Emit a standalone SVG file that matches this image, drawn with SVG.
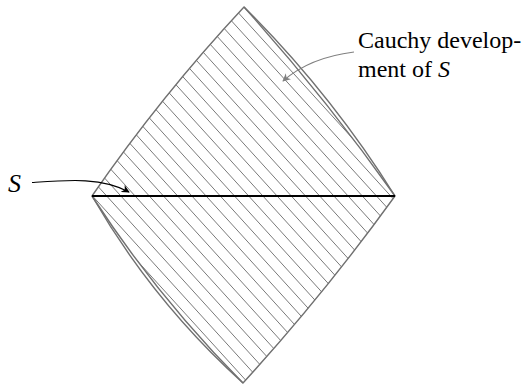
<svg xmlns="http://www.w3.org/2000/svg" width="527" height="388" viewBox="0 0 527 388">
  <style>
    .outline { fill: none; stroke: #707070; stroke-width: 1.4; stroke-linejoin: round; }
    .hatch { fill: none; stroke: #7a7a7a; stroke-width: 1; }
    .sline { stroke: #000; stroke-width: 2.2; }
    text { font-family: 'Liberation Serif', 'DejaVu Serif', serif; font-size: 24px; fill: #000; }
    .it { font-style: italic; }
    .lead-k { fill: none; stroke: #000; stroke-width: 1.2; }
    .lead-g { fill: none; stroke: #808080; stroke-width: 1.2; }
  </style>
  <defs>
    <marker id="ah-k" viewBox="0 0 10 10" refX="9" refY="5" markerWidth="8" markerHeight="8" markerUnits="userSpaceOnUse" orient="auto">
      <path d="M0,0 L10,5 L0,10 L3,5 Z" fill="#000"/>
    </marker>
    <marker id="ah-g" viewBox="0 0 10 10" refX="9" refY="5" markerWidth="8" markerHeight="8" markerUnits="userSpaceOnUse" orient="auto">
      <path d="M0,0 L10,5 L0,10 L3,5 Z" fill="#808080"/>
    </marker>
    <clipPath id="dev">
      <path d="M244,7 Q325,97 395,196 Q324.4,293.9 243,383 Q157.8,297.4 92,196 Q161,95.9 244,7 Z"/>
    </clipPath>
  </defs>

  <g id="development">
    <path class="hatch" clip-path="url(#dev)" d="
      M-101.7,-2 L258.3,394
      M-87.5,-2 L272.5,394
      M-73.3,-2 L286.7,394
      M-59.1,-2 L300.9,394
      M-44.9,-2 L315.1,394
      M-30.7,-2 L329.3,394
      M-16.5,-2 L343.5,394
      M-2.3,-2 L357.7,394
      M11.9,-2 L371.9,394
      M26.1,-2 L386.1,394
      M40.3,-2 L400.3,394
      M54.5,-2 L414.5,394
      M68.7,-2 L428.7,394
      M82.9,-2 L442.9,394
      M97.1,-2 L457.1,394
      M111.3,-2 L471.3,394
      M125.5,-2 L485.5,394
      M139.7,-2 L499.7,394
      M153.9,-2 L513.9,394
      M168.1,-2 L528.1,394
      M182.3,-2 L542.3,394
      M196.5,-2 L556.5,394
      M210.7,-2 L570.7,394
      M224.9,-2 L584.9,394
      M239.1,-2 L599.1,394"/>
    <path class="outline" d="M244,7 Q325,97 395,196 Q324.4,293.9 243,383 Q157.8,297.4 92,196 Q161,95.9 244,7 Z"/>
    <path class="outline" d="M244,7 Q330.4,92.8 395,196"/>
    <path class="outline" d="M92,196 Q152.7,301.4 243,383"/>
  </g>

  <g id="surface-S">
    <line class="sline" x1="92" y1="196" x2="395" y2="196"/>
  </g>

  <g id="label-S">
    <text class="it" x="8" y="192" font-family="Liberation Serif, DejaVu Serif, serif" style="font-size:26px">S</text>
  </g>

  <g id="label-cauchy">
    <text x="358" y="48" font-family="Liberation Serif, DejaVu Serif, serif">Cauchy develop-</text>
    <text x="358" y="77" font-family="Liberation Serif, DejaVu Serif, serif">ment of <tspan class="it">S</tspan></text>
  </g>

  <g id="connectors">
    <path class="lead-k" d="M32,182.5 C68,180 102,177 129,192" marker-end="url(#ah-k)"/>
    <path class="lead-g" d="M354,52 C322,56 300,66 283,81" marker-end="url(#ah-g)"/>
  </g>
</svg>
